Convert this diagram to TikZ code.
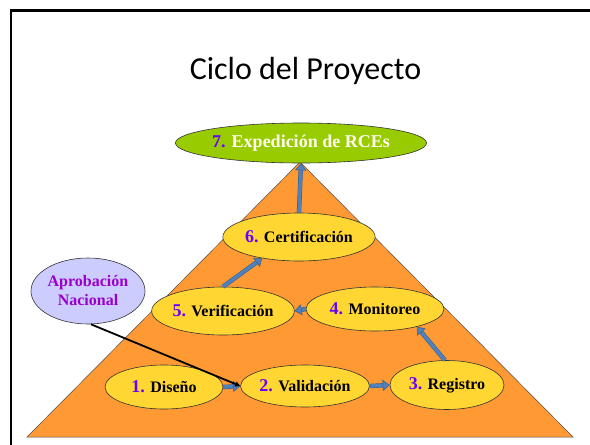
\documentclass[tikz,border=0pt]{standalone}
\usepackage{fontspec}
\setmainfont{Liberation Serif}
\newfontfamily\titlefont{Carlito}
\usepackage{tikz}
\usetikzlibrary{shapes.geometric}
\usetikzlibrary {arrows.meta}

\definecolor{piramide}{HTML}{FF9933}
\definecolor{paso}{HTML}{FFD632}
\definecolor{verde}{HTML}{99CC00}
\definecolor{lila}{HTML}{CCCCFF}
\definecolor{numero}{HTML}{6600FF}
\definecolor{morado}{HTML}{9900CC}
\definecolor{flecha}{HTML}{4F81BD}
\definecolor{flechaborde}{HTML}{385D8A}

\newcommand{\num}[1]{{\fontsize{18}{20}\selectfont\textcolor{numero}{#1}}}

\begin{document}
\begin{tikzpicture}[x=1pt,y=-1pt,
  etapa/.style={ellipse,draw=black!80,line width=0.6pt,fill=paso,inner sep=0pt,
    font=\bfseries\fontsize{16}{18}\selectfont},
  bloque/.style={double=flecha,double distance=3.4pt,draw=flechaborde,line width=0.5pt,
    -{Triangle[length=7pt,width=11pt,fill=flecha,color=flechaborde,line width=0.5pt]}}]
\useasboundingbox (0,0) rectangle (590,445);
\draw [line width=2.5pt] (11,460) |- (600,10.5);

\node (titulo) at (305.5,71) {\titlefont\fontsize{32}{38}\selectfont Ciclo del Proyecto};

\draw [fill=piramide,draw=black!70,line width=0.5pt] (300,162) -- (573,437) -- (27,437) -- cycle;

\node[etapa,fill=verde,minimum width=242pt,minimum height=40pt,text=white!94!yellow,
  font=\bfseries\fontsize{18}{20}\selectfont] (rces) at (301,143)
  {\textcolor{numero}{7.} Expedición de RCEs};
\node[etapa,minimum width=128pt,minimum height=48pt] (cert) at (299,237) {\num{6.} Certificación};
\node[etapa,minimum width=132pt,minimum height=48pt] (verif) at (223,311) {\num{5.} Verificación};
\node[etapa,minimum width=138pt,minimum height=44pt] (monit) at (375,309) {\num{4.} Monitoreo};
\node[etapa,minimum width=118pt,minimum height=44pt] (dis) at (164,387) {\num{1.} Diseño};
\node[etapa,minimum width=124pt,minimum height=42pt] (valid) at (305,386) {\num{2.} Validación};
\node[etapa,minimum width=114pt,minimum height=49pt] (regis) at (447,385) {\num{3.} Registro};

\node[etapa,fill=lila,minimum width=114pt,minimum height=66pt,text=morado,align=center,
  font=\bfseries\fontsize{16}{19}\selectfont] (aprob) at (88,291) {Aprobación\\Nacional};

\draw [bloque] (dis.east) -- (valid.west);
\draw [bloque] (valid.east) -- (regis.west);
\draw [bloque] (regis.95) -- (monit.-23);
\draw [bloque] (monit.west) -- (verif.east);
\draw [bloque] (verif.north) -- (cert.-150);
\draw [bloque] (cert.north) -- (rces.south);

\draw [-{Triangle[length=5pt,width=5pt]},line width=1.8pt] (aprob.-85) -- (valid.west);
\end{tikzpicture}
\end{document}
